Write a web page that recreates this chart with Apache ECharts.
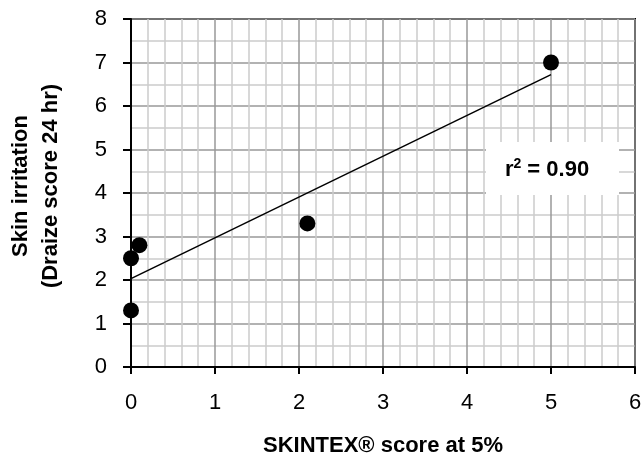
<!DOCTYPE html>
<html>
<head>
<meta charset="utf-8">
<script src="https://cdn.jsdelivr.net/npm/echarts@6/dist/echarts.min.js"></script>
<style>
html,body{margin:0;padding:0;background:#fff;}
#c{width:643px;height:455px;}
</style>
</head>
<body>
<div id="c"></div>
<script>
// Data
const pointsX = [0, 0, 0.1, 2.1, 5];
const pointsY = [1.3, 2.5, 2.8, 3.3, 7.0];
const trendX = [0, 5];
const trendY = [2.03, 6.72];
const rSquaredText = '0.90';
const xTitle = 'SKINTEX® score at 5%';
const yTitle = ['Skin irritation', '(Draize score 24 hr)'];

const FONT = "'Liberation Sans',Arial,sans-serif";

const chart = echarts.init(document.getElementById('c'), null, {renderer: 'canvas'});
const scatterData = pointsX.map((x, i) => [x, pointsY[i]]);
const trendData = trendX.map((x, i) => [x, trendY[i]]);

chart.setOption({
  animation: false,
  backgroundColor: '#fff',
  grid: {left: 131, top: 19, right: 8, bottom: 88, containLabel: false, outerBoundsMode: 'none',
         show: true, borderColor: '#000', borderWidth: 2, backgroundColor: 'transparent'},
  xAxis: {
    type: 'value', min: 0, max: 6, interval: 1,
    axisLine: {show: true, onZero: false, lineStyle: {color: '#000', width: 2}},
    axisTick: {show: true, length: 7, lineStyle: {color: '#000', width: 2}},
    axisLabel: {color: '#000', fontSize: 22, fontFamily: FONT, margin: 25},
    splitLine: {show: true, lineStyle: {color: '#999999', width: 1.5}},
    minorTick: {show: false, splitNumber: 5},
    minorSplitLine: {show: true, lineStyle: {color: '#cccccc', width: 1.5}},
    name: xTitle, nameLocation: 'middle', nameGap: 68,
    nameTextStyle: {color: '#000', fontSize: 22, fontWeight: 'bold', fontFamily: FONT}
  },
  yAxis: {
    type: 'value', min: 0, max: 8, interval: 1,
    axisLine: {show: true, onZero: false, lineStyle: {color: '#000', width: 2}},
    axisTick: {show: true, length: 8, lineStyle: {color: '#000', width: 2}},
    axisLabel: {color: '#000', fontSize: 22, fontFamily: FONT, margin: 24},
    splitLine: {show: true, lineStyle: {color: '#999999', width: 1.5}},
    minorTick: {show: false, splitNumber: 2},
    minorSplitLine: {show: true, lineStyle: {color: '#cccccc', width: 1.5}},
    name: yTitle.join('\n'), nameLocation: 'middle', nameGap: 65, nameRotate: 90,
    nameTextStyle: {color: '#000', fontSize: 22, fontWeight: 'bold', fontFamily: FONT, lineHeight: 30,
                    padding: [0, 0, 0, 14]}
  },
  series: [
    {
      type: 'line', data: trendData, showSymbol: false, symbol: 'none',
      lineStyle: {color: '#000', width: 1.5}, z: 3, silent: true
    },
    {
      type: 'scatter', data: scatterData, symbol: 'circle', symbolSize: 16,
      itemStyle: {color: '#000', opacity: 1}, z: 4
    }
  ],
  graphic: [
    {
      type: 'rect', shape: {x: 486, y: 142, width: 133, height: 53},
      style: {fill: '#fff'}, z: 10
    },
    {
      type: 'text', x: 547, y: 170, z: 11,
      style: {
        text: 'r{sup|2} = ' + rSquaredText,
        rich: {sup: {fontSize: 14, fontWeight: 'bold', fontFamily: FONT, padding: [0, 0, 12, 0]}},
        font: "bold 22px " + FONT, fill: '#000', align: 'center', verticalAlign: 'middle'
      }
    }
  ]
});
</script>
</body>
</html>
